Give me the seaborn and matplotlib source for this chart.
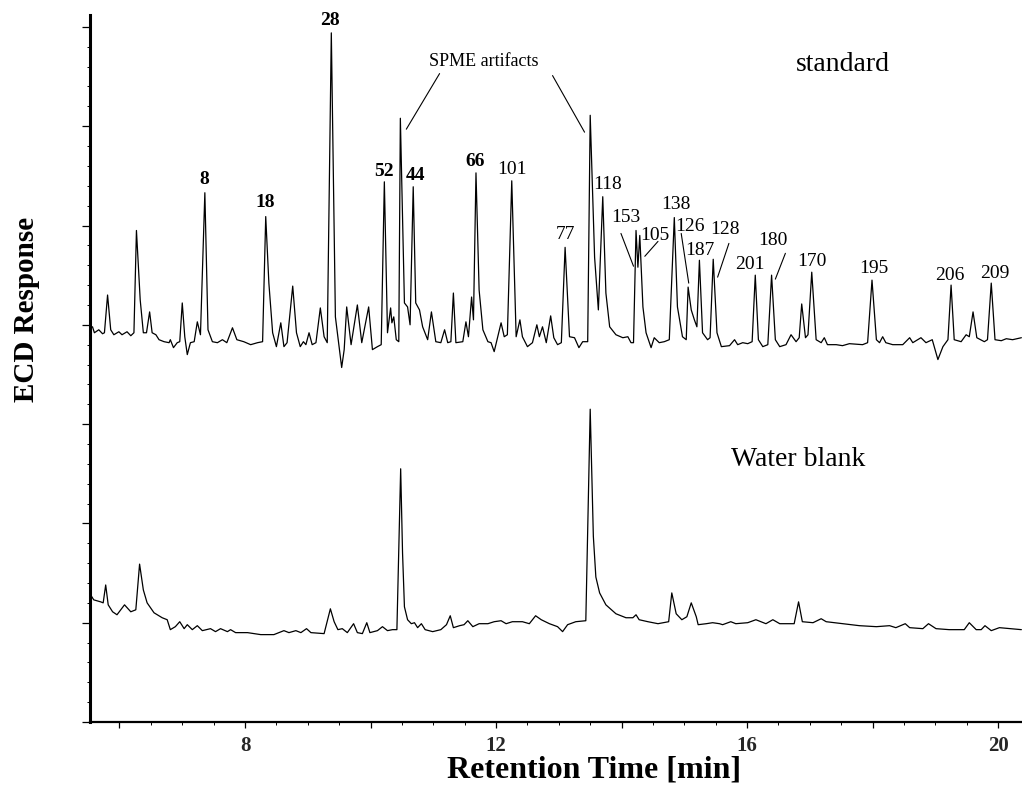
import matplotlib
matplotlib.use("Agg")
import matplotlib.pyplot as plt
import matplotlib.ticker as mticker
import seaborn as sns
import pandas as pd

# ---------------- data ----------------
std_time = [5.53, 5.57, 5.60, 5.67, 5.73, 5.76, 5.81, 5.86, 5.91, 5.99, 6.04, 6.12, 6.18, 6.23,
            6.27, 6.33, 6.38, 6.43, 6.48, 6.52, 6.58, 6.63, 6.71, 6.79, 6.81, 6.86, 6.92, 6.96,
            7.00, 7.04, 7.08, 7.13, 7.19, 7.24, 7.29, 7.36, 7.41, 7.48, 7.56, 7.64, 7.71, 7.80,
            7.87, 7.98, 8.09, 8.20, 8.28, 8.33, 8.38, 8.44, 8.50, 8.57, 8.62, 8.67, 8.76, 8.82,
            8.88, 8.93, 8.97, 9.02, 9.07, 9.13, 9.20, 9.26, 9.31, 9.375, 9.44, 9.54, 9.58, 9.62,
            9.69, 9.79, 9.86, 9.97, 10.03, 10.11, 10.17, 10.22, 10.27, 10.32, 10.34, 10.37, 10.41,
            10.45, 10.475, 10.54, 10.59, 10.63, 10.68, 10.72, 10.78, 10.83, 10.91, 10.97, 11.04,
            11.12, 11.18, 11.23, 11.28, 11.32, 11.36, 11.47, 11.52, 11.56, 11.61, 11.64, 11.68,
            11.73, 11.79, 11.87, 11.92, 11.97, 12.08, 12.13, 12.18, 12.25, 12.32, 12.38, 12.42,
            12.50, 12.58, 12.65, 12.69, 12.74, 12.80, 12.87, 12.92, 12.98, 13.04, 13.10, 13.17,
            13.25, 13.32, 13.38, 13.46, 13.50, 13.57, 13.63, 13.70, 13.75, 13.81, 13.91, 14.02,
            14.10, 14.15, 14.19, 14.23, 14.26, 14.29, 14.34, 14.39, 14.47, 14.52, 14.60, 14.68,
            14.76, 14.84, 14.89, 14.97, 15.03, 15.06, 15.11, 15.16, 15.20, 15.24, 15.29, 15.37,
            15.41, 15.46, 15.52, 15.59, 15.72, 15.80, 15.85, 15.93, 16.01, 16.08, 16.13, 16.18,
            16.25, 16.33, 16.39, 16.45, 16.52, 16.62, 16.70, 16.78, 16.83, 16.87, 16.93, 16.97,
            17.03, 17.10, 17.18, 17.23, 17.28, 17.42, 17.52, 17.63, 17.84, 17.92, 17.99, 18.06,
            18.11, 18.16, 18.21, 18.32, 18.48, 18.59, 18.64, 18.77, 18.85, 18.95, 19.04, 19.12,
            19.20, 19.25, 19.30, 19.41, 19.49, 19.54, 19.60, 19.66, 19.78, 19.83, 19.89, 19.95,
            20.05, 20.13, 20.23, 20.37]
std_resp = [39.7, 39.8, 39.2, 39.5, 39.1, 39.2, 43.0, 39.5, 39.0, 39.3, 39.0, 39.3, 38.9, 39.2,
            49.5, 42.5, 39.2, 39.2, 41.3, 39.2, 39.0, 38.5, 38.3, 38.2, 38.5, 37.7, 38.2, 38.3,
            42.2, 38.8, 37.0, 38.2, 38.3, 40.3, 39.0, 53.3, 39.5, 38.3, 38.2, 38.5, 38.2, 39.7,
            38.5, 38.3, 38.0, 38.2, 38.3, 50.9, 44.2, 39.2, 37.8, 40.2, 37.8, 38.2, 43.9, 39.2,
            37.8, 38.3, 38.0, 39.2, 38.0, 38.2, 41.7, 38.8, 38.2, 69.4, 40.8, 35.7, 37.5, 41.8,
            38.0, 42.0, 38.2, 41.8, 37.5, 37.8, 38.0, 54.4, 39.2, 41.7, 40.2, 40.8, 38.5,
            38.3, 60.8, 42.2, 41.8, 40.0, 53.9, 42.2, 41.5, 39.8, 38.5, 41.3, 38.3,
            38.2, 39.5, 38.2, 38.3, 43.2, 38.2, 38.3, 40.3, 38.8, 42.8, 40.5, 55.3,
            43.5, 39.5, 38.3, 38.2, 37.3, 40.2, 38.8, 39.0, 54.5, 38.8, 40.5, 38.8,
            37.8, 38.2, 40.0, 38.8, 39.8, 38.2, 40.9, 38.7, 38.0, 38.2, 47.8, 38.8,
            38.7, 37.7, 38.3, 38.3, 61.1, 46.8, 41.5, 52.9, 43.2, 39.8, 39.0, 38.7,
            38.8, 38.2, 38.2, 49.5, 45.8, 49.0, 41.8, 39.2, 37.7, 38.7, 38.2, 38.3,
            38.5, 50.8, 41.8, 38.8, 38.5, 43.8, 41.5, 40.5, 39.8, 46.5, 39.2, 38.5,
            38.7, 46.6, 39.2, 37.8, 37.9, 38.5, 38.0, 38.2, 38.1, 38.3, 45.0, 38.5,
            37.8, 38.0, 45.0, 38.5, 37.8, 38.0, 39.0, 38.3, 38.7, 42.1, 38.7, 39.0,
            45.3, 38.5, 38.2, 38.7, 38.0, 38.0, 37.9, 38.1, 38.0, 38.2, 44.5, 38.5,
            38.2, 38.8, 38.2, 38.0, 38.0, 38.7, 38.2, 38.7, 38.2, 38.5, 36.5, 37.8,
            38.5, 44.0, 38.5, 38.3, 39.0, 38.8, 41.3, 38.7, 38.3, 38.5, 44.2, 38.5,
            38.4, 38.6, 38.5, 38.7]

blank_time = [5.51, 5.59, 5.70, 5.74, 5.78, 5.82, 5.89, 5.96, 6.08, 6.18, 6.26, 6.32, 6.38, 6.44,
              6.55, 6.68, 6.76, 6.81, 6.89, 6.96, 7.03, 7.08, 7.16, 7.24, 7.32, 7.45, 7.53, 7.61,
              7.72, 7.77, 7.85, 8.04, 8.25, 8.46, 8.62, 8.70, 8.81, 8.89, 8.98, 9.05, 9.26, 9.36,
              9.42, 9.48, 9.55, 9.63, 9.73, 9.79, 9.87, 9.94, 9.99, 10.11, 10.19, 10.27, 10.35,
              10.42, 10.48, 10.51, 10.54, 10.59, 10.65, 10.70, 10.75, 10.81, 10.87, 10.99, 11.12,
              11.21, 11.27, 11.32, 11.42, 11.49, 11.55, 11.63, 11.73, 11.87, 11.97, 12.08, 12.16,
              12.26, 12.42, 12.53, 12.63, 12.72, 12.85, 12.98, 13.06, 13.14, 13.27, 13.43, 13.50,
              13.55, 13.59, 13.65, 13.75, 13.91, 14.07, 14.18, 14.23, 14.28, 14.42, 14.58, 14.75,
              14.80, 14.87, 14.96, 15.04, 15.11, 15.19, 15.22, 15.35, 15.45, 15.56, 15.61, 15.74,
              15.82, 16.01, 16.14, 16.30, 16.41, 16.52, 16.75, 16.82, 16.88, 17.05, 17.18, 17.26,
              17.52, 17.79, 18.06, 18.27, 18.37, 18.52, 18.59, 18.80, 18.89, 19.01, 19.22, 19.46,
              19.54, 19.65, 19.73, 19.79, 19.89, 20.02, 20.37]
blank_resp = [13.1, 12.3, 12.1, 12.0, 13.8, 11.8, 11.1, 10.8, 11.8, 11.1, 11.3, 15.9, 13.3, 12.0,
              11.0, 10.5, 10.3, 9.3, 9.6, 10.1, 9.4, 9.8, 9.3, 9.7, 9.2, 9.4, 9.1, 9.4,
              9.1, 9.3, 9.0, 9.0, 8.8, 8.8, 9.2, 9.0, 9.2, 9.0, 9.4, 9.0, 8.9, 11.4,
              10.1, 9.3, 9.4, 9.0, 9.9, 9.0, 8.9, 10.0, 9.0, 9.2, 9.6, 9.2, 9.3,
              9.3, 25.5, 17.0, 11.6, 10.3, 9.9, 10.0, 9.5, 9.9, 9.3, 9.1, 9.3,
              9.8, 10.7, 9.5, 9.7, 9.8, 10.2, 9.6, 9.9, 9.9, 10.1, 10.2, 9.9,
              10.1, 10.1, 9.9, 10.7, 10.3, 9.9, 9.6, 9.1, 9.8, 10.1, 10.2, 31.5,
              18.7, 14.6, 13.0, 11.8, 10.9, 10.5, 10.5, 10.8, 10.3, 10.1, 9.9, 10.1,
              13.0, 10.9, 10.3, 10.6, 12.0, 10.6, 9.8, 9.9, 10.0, 9.9, 9.8, 10.1,
              9.9, 10.0, 10.3, 9.9, 10.3, 9.9, 9.9, 12.1, 10.1, 10.0, 10.4, 10.1,
              9.9, 9.7, 9.6, 9.7, 9.5, 9.9, 9.5, 9.4, 9.9, 9.4, 9.3, 9.3,
              10.0, 9.3, 9.3, 9.7, 9.2, 9.5, 9.3]

# peak labels: congener number, x, y (label centre)
peak_names = ["8", "18", "28", "52", "44", "66", "101", "77", "118", "153", "105", "138",
              "126", "187", "128", "201", "180", "170", "195", "206", "209"]
peak_lx = [7.35, 8.32, 9.355, 10.22, 10.71, 11.67, 12.26, 13.10, 13.77, 14.06, 14.53, 14.87,
           15.09, 15.24, 15.64, 16.05, 16.41, 17.03, 18.02, 19.23, 19.95]
peak_ly = [54.6, 52.3, 70.6, 55.4, 55.0, 56.4, 55.6, 49.1, 54.1, 50.8, 49.0, 52.1,
           49.9, 47.5, 49.6, 46.1, 48.5, 46.4, 45.7, 45.0, 45.2]
peak_bold = ["8", "18", "28", "52", "44", "66"]

# leader lines (x0, y0, x1, y1)
leaders = [(13.99, 49.2, 14.19, 45.9),
           (14.58, 48.4, 14.37, 46.9),
           (14.95, 49.2, 15.07, 44.2),
           (15.71, 48.2, 15.53, 44.8),
           (16.61, 47.2, 16.45, 44.6),
           (11.10, 65.3, 10.57, 59.7),
           (12.90, 65.1, 13.41, 59.4)]

xtick_major = [6, 8, 10, 12, 14, 16, 18, 20]
xtick_labels = ["", "8", "", "12", "", "16", "", "20"]

# ---------------- plot ----------------
sns.set_theme(style="ticks")
plt.rcParams["font.family"] = ["Liberation Serif", "DejaVu Serif"]

fig = plt.figure(figsize=(10.22, 7.87), dpi=100)
ax = fig.add_axes([90 / 1022, 65 / 787, 932 / 1022, 707 / 787])

df_std = pd.DataFrame({"time": std_time, "resp": std_resp})
df_blank = pd.DataFrame({"time": blank_time, "resp": blank_resp})
sns.lineplot(data=df_std, x="time", y="resp", ax=ax, color="black", lw=0.9,
             estimator=None, sort=False)
sns.lineplot(data=df_blank, x="time", y="resp", ax=ax, color="black", lw=0.9,
             estimator=None, sort=False)

ax.set_xlim(5.53, 20.38)
ax.set_ylim(0, 71.2)

for name, x, y in zip(peak_names, peak_lx, peak_ly):
    ax.text(x, y, name, ha="center", va="center", fontsize=14,
            fontweight="bold" if name in peak_bold else "normal", color="black")

for x0, y0, x1, y1 in leaders:
    ax.plot([x0, x1], [y0, y1], color="black", lw=0.8)

ax.text(11.80, 66.5, "SPME artifacts", ha="center", va="center", fontsize=13, color="black")
ax.text(17.52, 66.2, "standard", ha="center", va="center", fontsize=20, color="black")
ax.text(16.81, 26.4, "Water blank", ha="center", va="center", fontsize=20, color="black")

# axes styling
sns.despine(ax=ax, top=True, right=True)
ax.spines["left"].set_linewidth(2.2)
ax.spines["bottom"].set_linewidth(1.6)
ax.spines["left"].set_color("black")
ax.spines["bottom"].set_color("black")

ax.xaxis.set_major_locator(mticker.FixedLocator(xtick_major))
ax.xaxis.set_major_formatter(mticker.FixedFormatter(xtick_labels))
ax.xaxis.set_minor_locator(mticker.MultipleLocator(0.5))
ax.yaxis.set_major_locator(mticker.MultipleLocator(10))
ax.yaxis.set_minor_locator(mticker.MultipleLocator(2))
ax.tick_params(axis="x", which="major", direction="out", length=4, width=0.9,
               color="black", labelsize=15, pad=6)
ax.tick_params(axis="x", which="minor", direction="out", length=2.5, width=0.7, color="black")
ax.tick_params(axis="y", which="major", direction="out", length=5.5, width=0.9,
               color="black", labelleft=False)
ax.tick_params(axis="y", which="minor", direction="out", length=2.5, width=0.7, color="black")
for lab in ax.get_xticklabels():
    lab.set_fontweight("bold")

ax.set_xlabel("Retention Time [min]", fontsize=23, fontweight="bold", color="black")
ax.set_ylabel("ECD Response", fontsize=21, fontweight="bold", color="black")
ax.xaxis.set_label_coords(0.541, -0.047)
ax.yaxis.set_label_coords(-0.0536, 0.583)
ax.set_facecolor("white")
fig.patch.set_facecolor("white")

fig.savefig("out.png", dpi=100)
